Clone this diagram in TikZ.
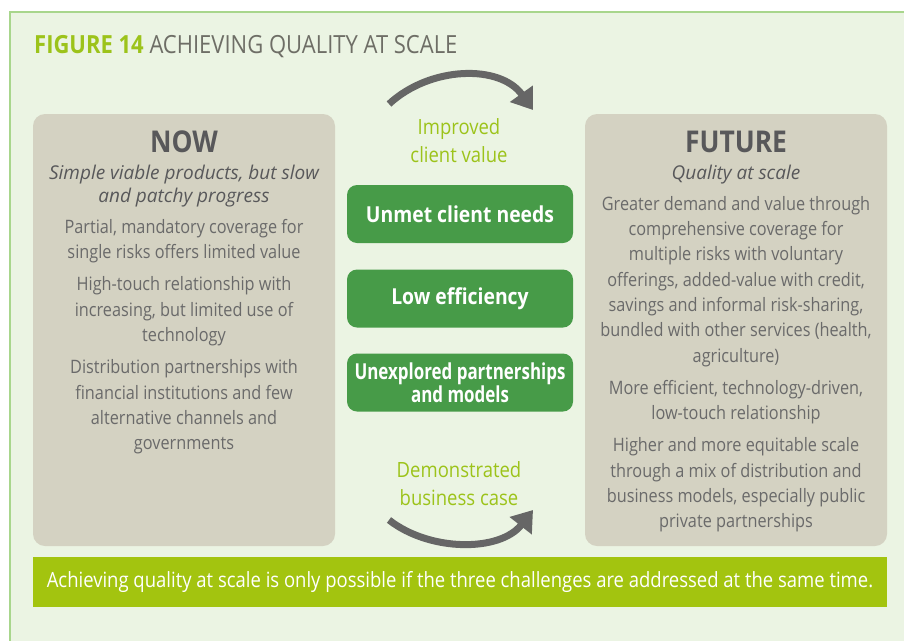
\documentclass[tikz,border=0pt]{standalone}
\usepackage{fontspec}
\setmainfont{Open Sans}[FakeStretch=0.88]
\newfontfamily\subfont{Open Sans}
\newfontfamily\tightfont{Open Sans}[FakeStretch=0.77]
\usepackage{tikz}
\usetikzlibrary{arrows.meta,positioning}
\definecolor{pagegreen}{HTML}{EBF4E3}
\definecolor{edgegreen}{HTML}{A8D68C}
\definecolor{limegreen}{HTML}{9CC31A}
\definecolor{titlegrey}{HTML}{6E6E66}
\definecolor{panelgrey}{HTML}{D4D2C2}
\definecolor{headgrey}{HTML}{58585A}
\definecolor{bodygrey}{HTML}{6A6A6A}
\definecolor{boxgreen}{HTML}{479B48}
\definecolor{arrowgrey}{HTML}{666666}
\definecolor{bannerlime}{HTML}{A3C40F}

\begin{document}
\begin{tikzpicture}[x=1pt,y=-1pt,
  panel/.style={rectangle, rounded corners=12pt, fill=panelgrey, minimum width=302pt, minimum height=432pt, inner sep=0pt},
  headlbl/.style={anchor=base, inner sep=0pt, headgrey, font=\fontsize{30}{34}\selectfont\bfseries},
  sublbl/.style={anchor=north, inner sep=0pt, headgrey, align=center, font=\subfont\fontsize{19}{23}\selectfont\itshape},
  bodytxt/.style={anchor=north, inner sep=0pt, bodygrey, align=center, font=\fontsize{18.5}{25.3}\selectfont},
  challenge/.style={rectangle, rounded corners=10pt, fill=boxgreen, text=white, minimum width=226pt, minimum height=58pt, inner sep=0pt, align=center, font=\fontsize{22}{23}\selectfont\bfseries},
  flowlbl/.style={anchor=north, inner sep=0pt, limegreen, align=center, font=\fontsize{21}{28}\selectfont},
  cycarrow/.style={draw=arrowgrey, line width=7pt, -{Triangle[length=20pt,width=27pt]}},
  banner/.style={rectangle, fill=bannerlime, text=white, minimum width=854pt, minimum height=50pt, inner sep=0pt, font=\fontsize{21}{24}\selectfont}
]
\useasboundingbox (0,0) rectangle (904,640);
\fill[white] (0,0) rectangle (904,640);
\begin{scope}
  \clip (0,0) rectangle (904,640);
  \draw[edgegreen, line width=1.5pt, fill=pagegreen] (10,12) rectangle (920,660);
\end{scope}

% title
\node[anchor=base west, inner sep=0pt, font=\fontsize{25}{28}\selectfont] (title) at (34,53)
  {\textcolor{limegreen}{\bfseries FIGURE 14} \textcolor{titlegrey}{ACHIEVING QUALITY AT SCALE}};

% now / future panels
\node[panel] (now) at (184,330) {};
\node[panel] (future) at (736,330) {};

\node[headlbl] (nowhead) at (184,152) {NOW};
\node[sublbl] (nowsub) at (184,165) {Simple viable products, but slow\\ and patchy progress};
\node[bodytxt] (nowbody) at (184,219) {Partial, mandatory coverage for\\ single risks offers limited value\\[7pt]
  High-touch relationship with\\ increasing, but limited use of\\ technology\\[7pt]
  Distribution partnerships with\\ financial institutions and few\\ alternative channels and\\ governments};

\node[headlbl] (futhead) at (736,152) {FUTURE};
\node[sublbl] (futsub) at (736,165) {Quality at scale};
\node[bodytxt] (futbody) at (736,196) {Greater demand and value through\\ comprehensive coverage for\\ multiple risks with voluntary\\
  offerings, added-value with credit,\\ savings and informal risk-sharing,\\ bundled with other services (health,\\ agriculture)\\[7pt]
  More efficient, technology-driven,\\ low-touch relationship\\[7pt]
  Higher and more equitable scale\\ through a mix of distribution and\\ business models, especially public\\ private partnerships};

% the three challenges
\node[challenge] (needs) at (460,214) {Unmet client needs};
\node[challenge] (effic) at (460,298.5) {Low efficiency};
\node[challenge, font=\tightfont\fontsize{22}{23}\selectfont\bfseries] (partn) at (460,382.5) {Unexplored partnerships\\ and models};

\node[flowlbl] (valuelbl) at (459,118) {Improved\\ client value};
\node[flowlbl] (caselbl) at (459,461) {Demonstrated\\ business case};

\coordinate (topstart) at (389,104);
\coordinate (topend) at (533,110);
\coordinate (botstart) at (389,520);
\coordinate (botend) at (533,510);
\draw[cycarrow] (topstart) .. controls (430,66) and (500,64) .. (topend);
\draw[cycarrow] (botstart) .. controls (430,552) and (500,552) .. (botend);

\node[banner] (note) at (460,582) {Achieving quality at scale is only possible if the three challenges are addressed at the same time.};
\end{tikzpicture}
\end{document}
